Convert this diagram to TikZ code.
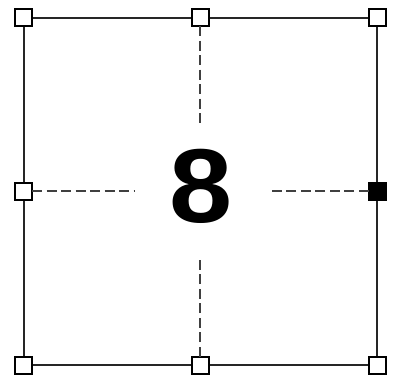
\documentclass[tikz,border=0pt]{standalone}
\usepackage{fontspec}
\setmainfont{Liberation Sans}
\begin{document}
\begin{tikzpicture}[x=1pt,y=1pt,
  handle/.style={draw=black,line width=2pt,fill=white,minimum size=17pt,inner sep=0pt,outer sep=0pt},
  handlesel/.style={handle,fill=black},
  frame/.style={draw=black!85,line width=2pt},
  guide/.style={draw=black!75,line width=1.7pt,dash pattern=on 10pt off 4.5pt}]
\useasboundingbox (0,0) rectangle (395,376);
% frame
\draw[frame] (23.5,358.5) rectangle (377,11);
% guide end points
\coordinate (te) at (200.25,251);
\coordinate (be) at (200.25,121);
\coordinate (le) at (135,184.75);
\coordinate (re) at (268,184.75);
% handles
\node[handle] (tl) at (23.5,358.5) {};
\node[handle] (tm) at (200.25,358.5) {};
\node[handle] (tr) at (377,358.5) {};
\node[handle] (ml) at (23.5,184.75) {};
\node[handlesel] (mr) at (377,184.75) {};
\node[handle] (bl) at (23.5,11) {};
\node[handle] (bm) at (200.25,11) {};
\node[handle] (br) at (377,11) {};
% guides
\draw[guide] (tm.south) -- (te);
\draw[guide] (bm.north) -- (be);
\draw[guide] (ml.east) -- (le);
\draw[guide] (mr.west) -- (re);
% label
\node[font=\fontsize{105}{105}\selectfont\bfseries,inner sep=0pt,xscale=1.08] (num) at (201,189.5) {8};
\end{tikzpicture}
\end{document}
